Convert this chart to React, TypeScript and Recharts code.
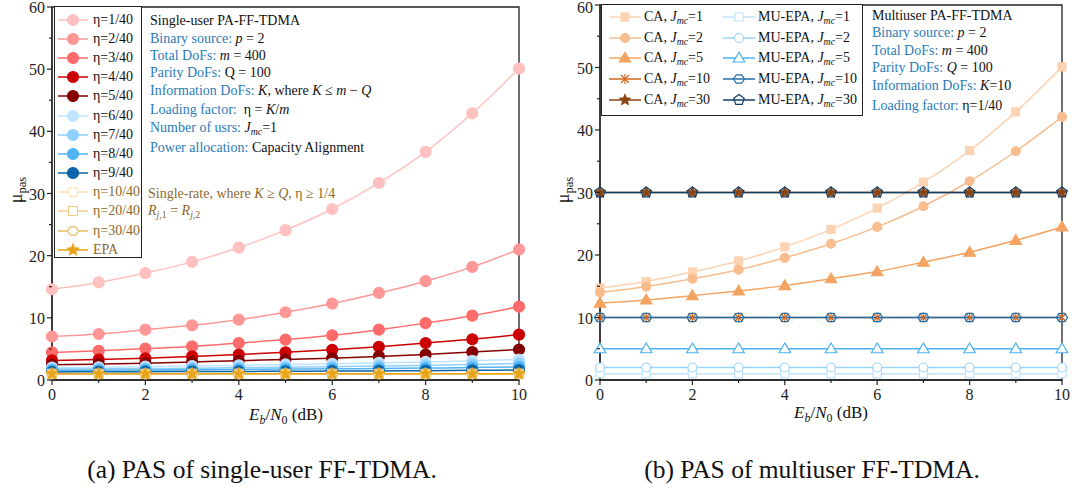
import React from "react";
import { LineChart, Line, XAxis, YAxis, Legend, ReferenceArea } from "recharts";

const FONT = '"Liberation Serif", "Times New Roman", serif';
const BLUE = "#2b7bb9";
const BROWN = "#8a6a2c";

// x axis: Eb/N0 in dB
const ebn0 = [0, 1, 2, 3, 4, 5, 6, 7, 8, 9, 10];
const xTicks = [0, 1, 2, 3, 4, 5, 6, 7, 8, 9, 10];
const yTicks = [0, 5, 10, 15, 20, 25, 30, 35, 40, 45, 50, 55, 60];

// (a) single-user PA-FF-TDMA
const eta1 = [14.6, 15.7, 17.2, 19.0, 21.3, 24.1, 27.5, 31.7, 36.7, 42.9, 50.1];
const eta2 = [7.0, 7.4, 8.1, 8.8, 9.7, 10.9, 12.3, 14.0, 15.9, 18.2, 21.0];
const eta3 = [4.45, 4.7, 5.05, 5.4, 5.95, 6.5, 7.2, 8.1, 9.15, 10.35, 11.8];
const eta4 = [3.15, 3.3, 3.5, 3.8, 4.1, 4.45, 4.85, 5.35, 5.95, 6.55, 7.3];
const eta5 = [2.45, 2.55, 2.7, 2.9, 3.1, 3.3, 3.5, 3.8, 4.1, 4.5, 4.9];
const eta6 = [2.0, 2.05, 2.15, 2.25, 2.35, 2.5, 2.6, 2.75, 2.9, 3.1, 3.3];
const eta7 = [1.75, 1.8, 1.85, 1.9, 2.0, 2.05, 2.15, 2.25, 2.35, 2.5, 2.65];
const eta8 = [1.55, 1.58, 1.62, 1.66, 1.7, 1.75, 1.8, 1.86, 1.92, 2.0, 2.1];
const eta9 = [1.3, 1.32, 1.34, 1.36, 1.38, 1.4, 1.43, 1.46, 1.5, 1.55, 1.6];
const eta10 = [1, 1, 1, 1, 1, 1, 1, 1, 1, 1, 1];
const eta20 = [1, 1, 1, 1, 1, 1, 1, 1, 1, 1, 1];
const eta30 = [1, 1, 1, 1, 1, 1, 1, 1, 1, 1, 1];
const epa = [1, 1, 1, 1, 1, 1, 1, 1, 1, 1, 1];

// (b) multiuser PA-FF-TDMA
const caJ1 = [14.7, 15.75, 17.3, 19.05, 21.3, 24.1, 27.5, 31.65, 36.7, 42.9, 50.1];
const caJ2 = [14.0, 14.95, 16.2, 17.65, 19.55, 21.8, 24.5, 27.8, 31.8, 36.6, 42.1];
const caJ5 = [12.3, 12.8, 13.5, 14.25, 15.1, 16.2, 17.35, 18.85, 20.45, 22.35, 24.5];
const caJ10 = [10, 10, 10, 10, 10, 10, 10, 10, 10, 10, 10];
const caJ30 = [30, 30, 30, 30, 30, 30, 30, 30, 30, 30, 30];
const muJ1 = [1, 1, 1, 1, 1, 1, 1, 1, 1, 1, 1];
const muJ2 = [2, 2, 2, 2, 2, 2, 2, 2, 2, 2, 2];
const muJ5 = [5, 5, 5, 5, 5, 5, 5, 5, 5, 5, 5];
const muJ10 = [10, 10, 10, 10, 10, 10, 10, 10, 10, 10, 10];
const muJ30 = [30, 30, 30, 30, 30, 30, 30, 30, 30, 30, 30];

type Series = {
  key: string;
  label: React.ReactNode;
  color: string;
  shape: string;
  fill: string;
  size: number;
  data: number[];
  text?: string;
};

const sub = { fontSize: "0.7em", verticalAlign: "-0.3em", lineHeight: 0 } as const;

const Jmc = (n: number) => (
  <>
    <i>J</i>
    <sub style={sub}>
      <i>mc</i>
    </sub>
    ={n}
  </>
);

const leftSeries: Series[] = [
  { key: "e1", label: "η=1/40", color: "#ffc0c0", shape: "circle", fill: "#ffc0c0", size: 5.5, data: eta1 },
  { key: "e2", label: "η=2/40", color: "#ff9797", shape: "circle", fill: "#ff9797", size: 5.5, data: eta2 },
  { key: "e3", label: "η=3/40", color: "#ff6a6a", shape: "circle", fill: "#ff6a6a", size: 5.5, data: eta3 },
  { key: "e4", label: "η=4/40", color: "#cc0000", shape: "circle", fill: "#cc0000", size: 5.5, data: eta4 },
  { key: "e5", label: "η=5/40", color: "#850000", shape: "circle", fill: "#850000", size: 5.5, data: eta5 },
  { key: "e6", label: "η=6/40", color: "#c0e4ff", shape: "circle", fill: "#c0e4ff", size: 5.5, data: eta6 },
  { key: "e7", label: "η=7/40", color: "#90d0ff", shape: "circle", fill: "#90d0ff", size: 5.5, data: eta7 },
  { key: "e8", label: "η=8/40", color: "#50b4f5", shape: "circle", fill: "#50b4f5", size: 5.5, data: eta8 },
  { key: "e9", label: "η=9/40", color: "#0a64a8", shape: "circle", fill: "#0a64a8", size: 5.5, data: eta9 },
  { key: "e10", label: "η=10/40", color: "#fbe3b0", shape: "circle", fill: "#fff", size: 5, data: eta10, text: BROWN },
  { key: "e20", label: "η=20/40", color: "#f0cf8c", shape: "square", fill: "#fff", size: 4.5, data: eta20, text: BROWN },
  { key: "e30", label: "η=30/40", color: "#e6bd62", shape: "hexagon", fill: "#fff", size: 5.5, data: eta30, text: BROWN },
  { key: "epa", label: "EPA", color: "#e8a519", shape: "star", fill: "#e8a519", size: 6.5, data: epa, text: BROWN },
];

const caSeries: Series[] = [
  { key: "c1", label: <>CA, {Jmc(1)}</>, color: "#fcd3b3", shape: "square", fill: "#fcd3b3", size: 4, data: caJ1 },
  { key: "c2", label: <>CA, {Jmc(2)}</>, color: "#f7bd8f", shape: "circle", fill: "#f7bd8f", size: 4.5, data: caJ2 },
  { key: "c5", label: <>CA, {Jmc(5)}</>, color: "#f4a361", shape: "triangle", fill: "#f4a361", size: 5, data: caJ5 },
  { key: "c10", label: <>CA, {Jmc(10)}</>, color: "#d2691e", shape: "asterisk", fill: "none", size: 5, data: caJ10 },
  { key: "c30", label: <>CA, {Jmc(30)}</>, color: "#8b4513", shape: "star", fill: "#8b4513", size: 6, data: caJ30 },
];

const muSeries: Series[] = [
  { key: "m1", label: <>MU-EPA, {Jmc(1)}</>, color: "#c4e4fc", shape: "square", fill: "#fff", size: 4, data: muJ1 },
  { key: "m2", label: <>MU-EPA, {Jmc(2)}</>, color: "#9ad4fa", shape: "circle", fill: "#fff", size: 4.5, data: muJ2 },
  { key: "m5", label: <>MU-EPA, {Jmc(5)}</>, color: "#4cb2f0", shape: "triangle", fill: "#fff", size: 5, data: muJ5 },
  { key: "m10", label: <>MU-EPA, {Jmc(10)}</>, color: "#2170ae", shape: "hexagon", fill: "none", size: 5.5, data: muJ10 },
  { key: "m30", label: <>MU-EPA, {Jmc(30)}</>, color: "#123f66", shape: "pentagon", fill: "none", size: 5.5, data: muJ30 },
];

const rightSeries = [...caSeries, ...muSeries];

const toRows = (list: Series[]) =>
  ebn0.map((x, i) => {
    const row: Record<string, number> = { x };
    list.forEach((s) => (row[s.key] = s.data[i]));
    return row;
  });

const leftRows = toRows(leftSeries);
const rightRows = toRows(rightSeries);

function Marker({ shape, cx, cy, s, color, fill }: any) {
  const sw = 1.2;
  if (shape === "circle") return <circle cx={cx} cy={cy} r={s} fill={fill} stroke={color} strokeWidth={sw} />;
  if (shape === "square")
    return <rect x={cx - s} y={cy - s} width={2 * s} height={2 * s} fill={fill} stroke={color} strokeWidth={sw} />;
  if (shape === "triangle") {
    const pts = `${cx},${cy - s * 1.15} ${cx - s * 1.15},${cy + s * 0.8} ${cx + s * 1.15},${cy + s * 0.8}`;
    return <polygon points={pts} fill={fill} stroke={color} strokeWidth={sw} />;
  }
  if (shape === "hexagon" || shape === "pentagon") {
    const n = shape === "hexagon" ? 6 : 5;
    const start = shape === "hexagon" ? 0 : -Math.PI / 2;
    const pts = Array.from({ length: n }, (_, k) => {
      const a = start + (2 * Math.PI * k) / n;
      return `${cx + s * Math.cos(a)},${cy + s * (shape === "hexagon" ? 0.85 : 1) * Math.sin(a)}`;
    }).join(" ");
    return <polygon points={pts} fill={fill} stroke={color} strokeWidth={sw} />;
  }
  if (shape === "star") {
    const pts = Array.from({ length: 10 }, (_, k) => {
      const a = -Math.PI / 2 + (Math.PI * k) / 5;
      const r = k % 2 === 0 ? s : s * 0.45;
      return `${cx + r * Math.cos(a)},${cy + r * Math.sin(a)}`;
    }).join(" ");
    return <polygon points={pts} fill={fill} stroke={color} strokeWidth={0.8} />;
  }
  // asterisk
  const d = s * 0.8;
  return (
    <g stroke={color} strokeWidth={sw}>
      <line x1={cx - d} y1={cy - d} x2={cx + d} y2={cy + d} />
      <line x1={cx - d} y1={cy + d} x2={cx + d} y2={cy - d} />
      <line x1={cx} y1={cy - s} x2={cx} y2={cy + s} />
    </g>
  );
}

const dotFor = (ser: Series) => (p: any) => {
  const { cx, cy, index } = p;
  if (cx == null || cy == null) return <g key={`${ser.key}-${index}`} />;
  return (
    <g key={`${ser.key}-${index}`}>
      <Marker shape={ser.shape} cx={cx} cy={cy} s={ser.size} color={ser.color} fill={ser.fill} />
    </g>
  );
};

const XTick = (p: any) => {
  const { x, y, payload } = p;
  const v = payload.value;
  const major = v % 2 === 0;
  return (
    <g>
      <line x1={x} x2={x} y1={y} y2={y + (major ? 5 : 3)} stroke="#222" strokeWidth={1.2} />
      {major && (
        <text x={x} y={y + 20} textAnchor="middle" fontFamily={FONT} fontSize={16} fill="#222">
          {v}
        </text>
      )}
    </g>
  );
};

const YTick = (p: any) => {
  const { x, y, payload } = p;
  const v = payload.value;
  const major = v % 10 === 0;
  return (
    <g>
      <line x1={x - (major ? 5 : 3)} x2={x} y1={y} y2={y} stroke="#222" strokeWidth={1.2} />
      {major && (
        <text x={x - 7} y={Math.max(y + 6, 13)} textAnchor="end" fontFamily={FONT} fontSize={16} fill="#222">
          {v}
        </text>
      )}
    </g>
  );
};

function Icon({ ser, w }: { ser: Series; w: number }) {
  return (
    <svg width={w} height={18} style={{ display: "block", flex: "none" }}>
      <line x1={1} x2={w - 1} y1={9} y2={9} stroke={ser.color} strokeWidth={1.5} />
      <Marker shape={ser.shape} cx={w / 2} cy={9} s={ser.size} color={ser.color} fill={ser.fill} />
    </svg>
  );
}

const LeftLegend = () => (
  <div
    style={{
      border: "1.2px solid #222",
      background: "#fff",
      width: 88,
      height: 252,
      boxSizing: "border-box",
      paddingTop: 3,
      paddingLeft: 2,
      fontFamily: FONT,
      fontSize: 14,
    }}
  >
    {leftSeries.map((s) => (
      <div key={s.key} style={{ display: "flex", alignItems: "center", height: 19.2, color: s.text || "#111" }}>
        <Icon ser={s} w={32} />
        <span style={{ marginLeft: 4, whiteSpace: "nowrap" }}>{s.label}</span>
      </div>
    ))}
  </div>
);

const RightLegend = () => (
  <div
    style={{
      border: "1.2px solid #222",
      background: "#fff",
      width: 262,
      height: 112,
      boxSizing: "border-box",
      paddingTop: 1.5,
      paddingLeft: 6,
      fontFamily: FONT,
      fontSize: 14,
      display: "flex",
      color: "#111",
    }}
  >
    {[caSeries, muSeries].map((col, ci) => (
      <div key={ci} style={{ width: ci === 0 ? 114 : 140 }}>
        {col.map((s) => (
          <div key={s.key} style={{ display: "flex", alignItems: "center", height: 20.8 }}>
            <Icon ser={s} w={34} />
            <span style={{ marginLeft: 2, whiteSpace: "nowrap" }}>{s.label}</span>
          </div>
        ))}
      </div>
    ))}
  </div>
);

const B = ({ children }: any) => <span style={{ color: BLUE }}>{children}</span>;

function Note({ x, y, color, children }: any) {
  return (
    <div
      style={{
        position: "absolute",
        left: x,
        top: y - 9,
        height: 18,
        lineHeight: "18px",
        fontFamily: FONT,
        fontSize: 14,
        color: color || "#111",
        whiteSpace: "nowrap",
      }}
    >
      {children}
    </div>
  );
}

function MuLabel({ x, y }: { x: number; y: number }) {
  return (
    <div
      style={{
        position: "absolute",
        left: x - 30,
        top: y - 10,
        width: 60,
        height: 20,
        lineHeight: "20px",
        textAlign: "center",
        transform: "rotate(-90deg)",
        fontFamily: FONT,
        fontSize: 18,
        color: "#111",
      }}
    >
      μ<sub style={sub}>pas</sub>
    </div>
  );
}

function XLabel({ cx, y }: { cx: number; y: number }) {
  return (
    <div
      style={{
        position: "absolute",
        left: cx - 80,
        top: y - 10,
        width: 160,
        textAlign: "center",
        lineHeight: "20px",
        fontFamily: FONT,
        fontSize: 17,
        color: "#111",
      }}
    >
      <i>E</i>
      <sub style={sub}>
        <i>b</i>
      </sub>
      /<i>N</i>
      <sub style={sub}>0</sub> (dB)
    </div>
  );
}

function Caption({ cx, y, children }: any) {
  return (
    <div
      style={{
        position: "absolute",
        left: cx - 250,
        top: y - 15,
        width: 500,
        textAlign: "center",
        lineHeight: "30px",
        fontFamily: FONT,
        fontSize: 25.5,
        color: "#111",
      }}
    >
      {children}
    </div>
  );
}

function Panel({ rows, series, yTop, right, legend, legendPos }: any) {
  return (
    <LineChart
      width={530}
      height={440}
      data={rows}
      margin={{ top: yTop, right, bottom: 30, left: 12 }}
      style={{ fontFamily: FONT, overflow: "visible" }}
    >
      <XAxis
        dataKey="x"
        type="number"
        domain={[0, 10]}
        ticks={xTicks}
        interval={0}
        height={30}
        tickSize={0}
        tickMargin={0}
        tick={<XTick />}
        axisLine={{ stroke: "#222", strokeWidth: 1.3 }}
      />
      <YAxis
        type="number"
        domain={[0, 60]}
        ticks={yTicks}
        interval={0}
        width={40}
        tickSize={0}
        tickMargin={0}
        tick={<YTick />}
        axisLine={{ stroke: "#222", strokeWidth: 1.3 }}
        allowDataOverflow
      />
      <ReferenceArea x1={0} x2={10} y1={0} y2={60} fill="none" stroke="#222" strokeWidth={1.3} ifOverflow="visible" />
      {series.map((s: Series) => (
        <Line
          key={s.key}
          dataKey={s.key}
          type="monotone"
          stroke={s.color}
          strokeWidth={1.5}
          dot={dotFor(s)}
          activeDot={false}
          isAnimationActive={false}
        />
      ))}
      <Legend
        layout="vertical"
        align="center"
        verticalAlign="middle"
        wrapperStyle={{ left: legendPos[0], top: legendPos[1], width: "auto", height: "auto" }}
        content={legend}
      />
    </LineChart>
  );
}

export default function App() {
  return (
    <div style={{ position: "absolute", left: 0, top: 0, width: 1078, height: 495, background: "#fff", overflow: "hidden" }}>
      <div style={{ position: "absolute", left: 0, top: 0 }}>
        <Panel rows={leftRows} series={leftSeries} yTop={7} right={11} legend={<LeftLegend />} legendPos={[54, 6]} />
      </div>
      <div style={{ position: "absolute", left: 548, top: 0 }}>
        <Panel rows={rightRows} series={rightSeries} yTop={5} right={16} legend={<RightLegend />} legendPos={[53, 4]} />
      </div>

      <Note x={150} y={21}>Single-user PA-FF-TDMA</Note>
      <Note x={150} y={39}>
        <B>Binary source: </B>
        <i>p</i> = 2
      </Note>
      <Note x={150} y={56}>
        <B>Total DoFs: </B>
        <i>m</i> = 400
      </Note>
      <Note x={150} y={73}>
        <B>Parity DoFs: </B>Q = 100
      </Note>
      <Note x={150} y={91}>
        <B>Information DoFs: </B>
        <i>K</i>, where <i>K</i> ≤ <i>m</i> − <i>Q</i>
      </Note>
      <Note x={150} y={110}>
        <B>Loading factor: </B>&nbsp;η = <i>K</i>/<i>m</i>
      </Note>
      <Note x={150} y={128}>
        <B>Number of usrs: </B>
        {Jmc(1)}
      </Note>
      <Note x={150} y={148}>
        <B>Power allocation: </B>Capacity Alignment
      </Note>
      <Note x={148} y={194} color={BROWN}>
        Single-rate, where <i>K</i> ≥ <i>Q</i>, η ≥ 1/4
      </Note>
      <Note x={148} y={211} color={BROWN}>
        <i>R</i>
        <sub style={sub}>
          <i>j</i>,1
        </sub>{" "}
        = <i>R</i>
        <sub style={sub}>
          <i>j</i>,2
        </sub>
      </Note>

      <Note x={872} y={16}>Multiuser PA-FF-TDMA</Note>
      <Note x={872} y={33}>
        <B>Binary source: </B>
        <i>p</i> = 2
      </Note>
      <Note x={872} y={51}>
        <B>Total DoFs: </B>
        <i>m</i> = 400
      </Note>
      <Note x={872} y={68}>
        <B>Parity DoFs: </B>
        <i>Q</i> = 100
      </Note>
      <Note x={872} y={86}>
        <B>Information DoFs: </B>
        <i>K</i>=10
      </Note>
      <Note x={872} y={106}>
        <B>Loading factor: </B>η=1/40
      </Note>

      <MuLabel x={16} y={190} />
      <MuLabel x={563} y={190} />
      <XLabel cx={286} y={415} />
      <XLabel cx={831} y={413} />
      <Caption cx={262} y={470}>(a) PAS of single-user FF-TDMA.</Caption>
      <Caption cx={812} y={470}>(b) PAS of multiuser FF-TDMA.</Caption>
    </div>
  );
}
